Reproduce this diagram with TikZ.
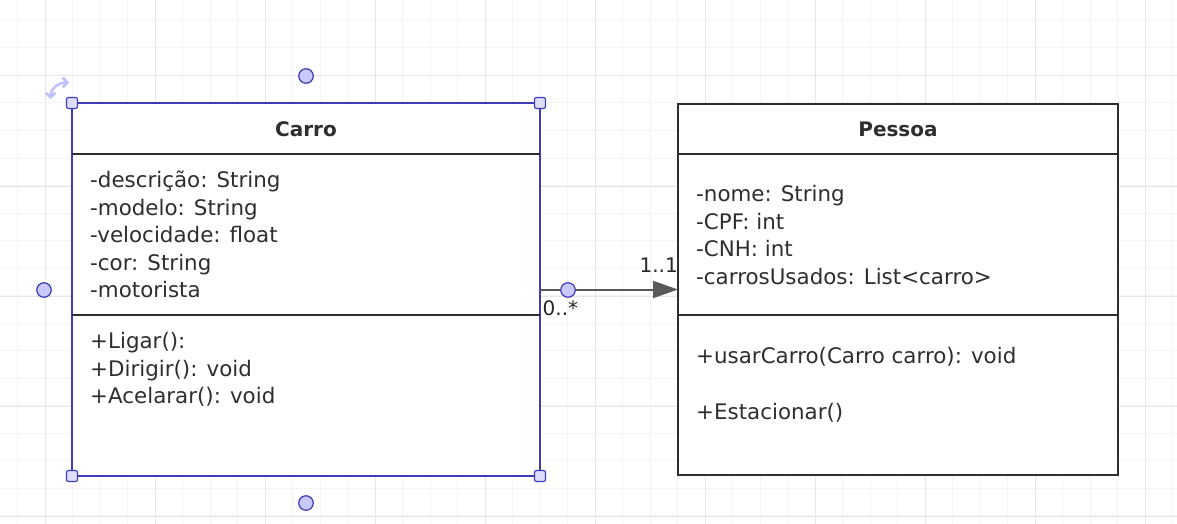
\documentclass[tikz,border=0pt]{standalone}
\usepackage{fontspec}
\setmainfont{DejaVu Sans}
\usetikzlibrary{arrows.meta}
\definecolor{txt}{HTML}{2E2E2E}
\definecolor{selblue}{HTML}{3D3DB8}
\definecolor{handlefill}{HTML}{C8C8FA}
\definecolor{rotcol}{HTML}{BFC2FF}
\definecolor{gridminor}{HTML}{F4F4F4}
\definecolor{gridmajor}{HTML}{E7E7E7}
\definecolor{linkgray}{HTML}{595959}
\begin{document}
\begin{tikzpicture}[x=1pt,y=-1pt,
 umlbox/.style={draw=txt, line width=2pt, fill=white, inner sep=0pt, outer sep=0pt},
 lbl/.style={anchor=base west, inner sep=0pt, text=txt, font=\fontsize{21.4}{24}\selectfont},
 ttl/.style={anchor=base, inner sep=0pt, text=txt, font=\fontsize{20}{24}\selectfont\bfseries},
 mult/.style={inner sep=0pt, text=black!85, font=\fontsize{20}{24}\selectfont},
 corner/.style={draw=selblue, fill=handlefill!60, line width=1.2pt, minimum size=11pt, rounded corners=2pt, inner sep=0pt},
 dot/.style={circle, draw=selblue, fill=handlefill, line width=1.2pt, minimum size=14.5pt, inner sep=0pt},
 divider/.style={draw=txt, line width=2pt},
]
\useasboundingbox (0,0) rectangle (1177,524);
\fill[white] (0,0) rectangle (1177,524);
% grid
\foreach \x in {17.5,45,...,1177} \draw[gridminor, line width=1pt] (\x,0) -- (\x,524);
\foreach \y in {20.5,48,...,524} \draw[gridminor, line width=1pt] (0,\y) -- (1177,\y);
\foreach \x in {45,155,...,1177} \draw[gridmajor, line width=1pt] (\x,0) -- (\x,524);
\foreach \y in {76,186,...,524} \draw[gridmajor, line width=1pt] (0,\y) -- (1177,\y);

% Carro class
\node[umlbox, draw=selblue, minimum width=468pt, minimum height=373pt] (carro) at (306,289.5) {};
\draw[divider] (carro.west |- 0,154) -- (carro.east |- 0,154);
\draw[divider] (carro.west |- 0,315) -- (carro.east |- 0,315);
\node[ttl] (carroT) at (306,136.7) {Carro};
\node[lbl] (ca1) at (90,187.5) {-descrição: String};
\node[lbl] (ca2) at (90,215) {-modelo: String};
\node[lbl] (ca3) at (90,242.7) {-velocidade: float};
\node[lbl] (ca4) at (90,270.2) {-cor: String};
\node[lbl] (ca5) at (90,297.7) {-motorista};
\node[lbl] (cm1) at (90,348.3) {+Ligar():};
\node[lbl] (cm2) at (90,376) {+Dirigir(): void};
\node[lbl] (cm3) at (90,403.7) {+Acelarar(): void};

% Pessoa class
\node[umlbox, minimum width=440pt, minimum height=371pt] (pessoa) at (898,289.5) {};
\draw[divider] (pessoa.west |- 0,154) -- (pessoa.east |- 0,154);
\draw[divider] (pessoa.west |- 0,315) -- (pessoa.east |- 0,315);
\node[ttl] (pessoaT) at (898,136.7) {Pessoa};
\node[lbl] (pa1) at (696,201.7) {-nome: String};
\node[lbl] (pa2) at (696,229.3) {-CPF: int};
\node[lbl] (pa3) at (696,256.8) {-CNH: int};
\node[lbl] (pa4) at (696,284.3) {-carrosUsados: List<carro>};
\node[lbl] (pm1) at (696,363.3) {+usarCarro(Carro carro): void};
\node[lbl] (pm2) at (696,419) {+Estacionar()};

% association
\draw[linkgray, line width=2pt, -{Triangle[length=25pt,width=17pt]}] (carro.east) -- (pessoa.west);
\node[mult, anchor=base east] (m1) at (678,272.3) {1..1};
\node[mult, anchor=base west] (m0) at (542.5,315) {0..*};

% selection handles
\node[corner] (hnw) at (carro.north west) {};
\node[corner] (hne) at (carro.north east) {};
\node[corner] (hsw) at (carro.south west) {};
\node[corner] (hse) at (carro.south east) {};
\node[dot] (dn) at (306,76) {};
\node[dot] (ds) at (306,503) {};
\node[dot] (dw) at (44,290) {};
\node[dot] (de) at (568,290) {};
\coordinate (r1) at (50.5,99);
\coordinate (r2) at (69,82.5);
\draw[rotcol, line width=2.6pt, line cap=round, {Straight Barb[length=4.5pt,width=10pt]}-{Straight Barb[length=4.5pt,width=10pt]}] (r1) .. controls (50.5,89) and (58,82.5) .. (r2);
\end{tikzpicture}
\end{document}
